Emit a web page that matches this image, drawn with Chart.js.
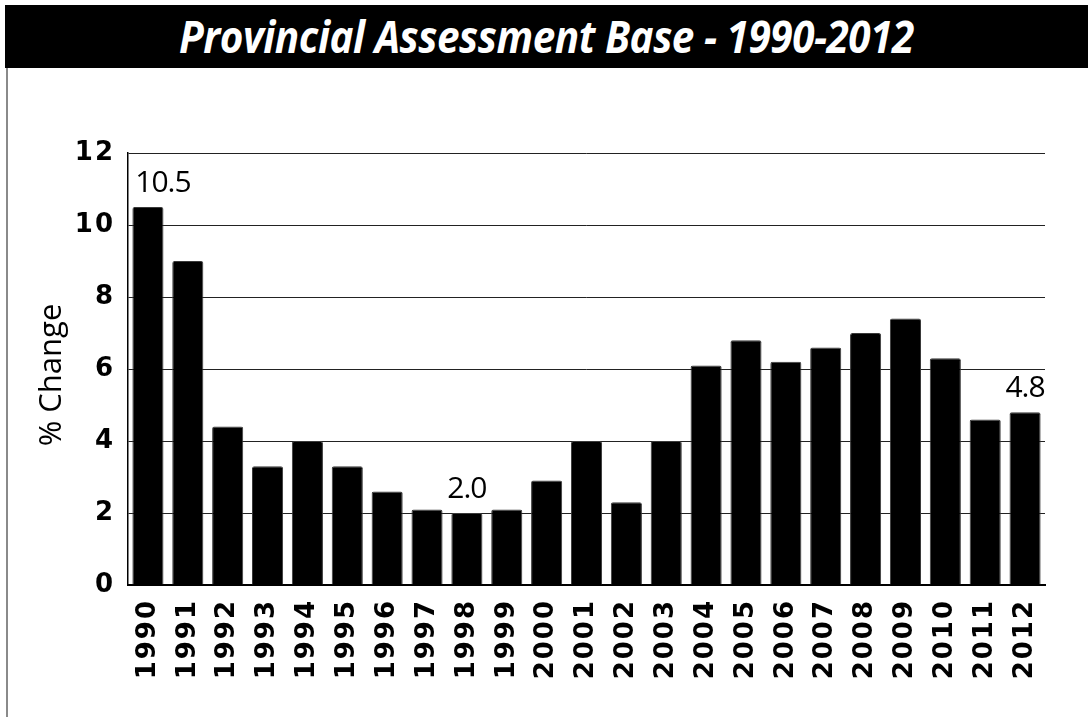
<!DOCTYPE html>
<html>
<head>
<meta charset="utf-8">
<script src="https://cdn.jsdelivr.net/npm/chart.js@4.4.1/dist/chart.umd.min.js"></script>
<style>
  html, body { margin: 0; padding: 0; background: #fff; }
  #wrap { position: relative; width: 1088px; height: 717px; overflow: hidden; }
  #title {
    position: absolute; left: 5px; top: 5px; width: 1083px; height: 63px;
    background: #000; color: #fff; text-align: center;
    font: italic bold 44px "Open Sans", sans-serif;
    line-height: 63px;
  }
  #title span { display: inline-block; transform: scaleX(0.92); letter-spacing: -0.5px; }
  #frame { position: absolute; left: 6px; top: 68px; width: 0; height: 649px; border-left: 2px solid #8a8a8a; }
  #myChart { position: absolute; left: 0; top: 0; }
</style>
</head>
<body>
<div id="wrap">
  <canvas id="myChart" width="1088" height="717"></canvas>
  <div id="frame"></div>
  <div id="title"><span>Provincial Assessment Base - 1990-2012</span></div>
</div>
<script>
var years = ['1990', '1991', '1992', '1993', '1994', '1995', '1996', '1997', '1998', '1999', '2000', '2001',
             '2002', '2003', '2004', '2005', '2006', '2007', '2008', '2009', '2010', '2011', '2012'];
var pctChange = [10.5, 9.0, 4.4, 3.3, 4.0, 3.3, 2.6, 2.1, 2.0, 2.1, 2.9, 4.0,
                 2.3, 4.0, 6.1, 6.8, 6.2, 6.6, 7.0, 7.4, 6.3, 4.6, 4.8];
var calloutYears = ['1990', '1998', '2012'];
var yMin = 0, yMax = 12, yStep = 2;
var yTitle = '% Change';

var tickFont = { family: 'DejaVu Sans', weight: 'bold', size: 26 };

// wide lettering for the axis numbers, normal spacing for everything else
var spacing = {
  id: 'spacing',
  beforeLayout: function (chart) { chart.ctx.letterSpacing = '2px'; },
  afterLayout: function (chart) { chart.ctx.letterSpacing = '0px'; },
  beforeDraw: function (chart) { chart.ctx.letterSpacing = '2px'; },
  beforeDatasetsDraw: function (chart) { chart.ctx.letterSpacing = '0px'; },
  afterDraw: function (chart) {
    var ctx = chart.ctx;
    ctx.save();
    ctx.fillStyle = '#000';
    // value callouts
    ctx.letterSpacing = '-1px';
    ctx.font = '500 30px "Open Sans", sans-serif';
    ctx.textAlign = 'center';
    ctx.textBaseline = 'bottom';
    var meta = chart.getDatasetMeta(0);
    calloutYears.forEach(function (yr) {
      var i = years.indexOf(yr);
      var bar = meta.data[i];
      var dx = i === 0 ? 15 : 0;
      ctx.fillText(pctChange[i].toFixed(1), bar.x + dx, bar.y - 9);
    });
    // y axis title
    ctx.letterSpacing = '0px';
    ctx.font = '500 31px "Open Sans", sans-serif';
    ctx.translate(52, (chart.chartArea.top + chart.chartArea.bottom) / 2 + 6);
    ctx.rotate(-Math.PI / 2);
    ctx.textBaseline = 'middle';
    ctx.fillText(yTitle, 0, 0);
    ctx.restore();
  }
};

var ctx = document.getElementById('myChart');
var myChart = new Chart(ctx, {
  type: 'bar',
  data: {
    labels: years,
    datasets: [{
      label: yTitle,
      data: pctChange,
      backgroundColor: '#000',
      borderColor: '#3a3a3a',
      borderWidth: 1,
      borderSkipped: 'bottom',
      borderRadius: 2,
      barPercentage: 0.78,
      categoryPercentage: 1.0
    }]
  },
  options: {
    responsive: false,
    animation: false,
    layout: { padding: { top: 153, left: 10, right: 43, bottom: 0 } },
    plugins: { legend: { display: false }, tooltip: { enabled: false } },
    scales: {
      x: {
        grid: { display: false },
        border: { display: true, color: '#000', width: 2 },
        ticks: { color: '#000', font: tickFont, minRotation: 90, maxRotation: 90, padding: 6, autoSkip: false },
        afterFit: function (scale) { scale.height = 132; }
      },
      y: {
        min: yMin,
        max: yMax,
        grid: { color: '#222', lineWidth: 1, drawTicks: false },
        border: { display: true, color: '#000', width: 1.5 },
        ticks: { stepSize: yStep, color: '#000', font: tickFont, padding: 13 },
        afterFit: function (scale) { scale.width = 118; }
      }
    }
  },
  plugins: [spacing]
});
</script>
</body>
</html>
